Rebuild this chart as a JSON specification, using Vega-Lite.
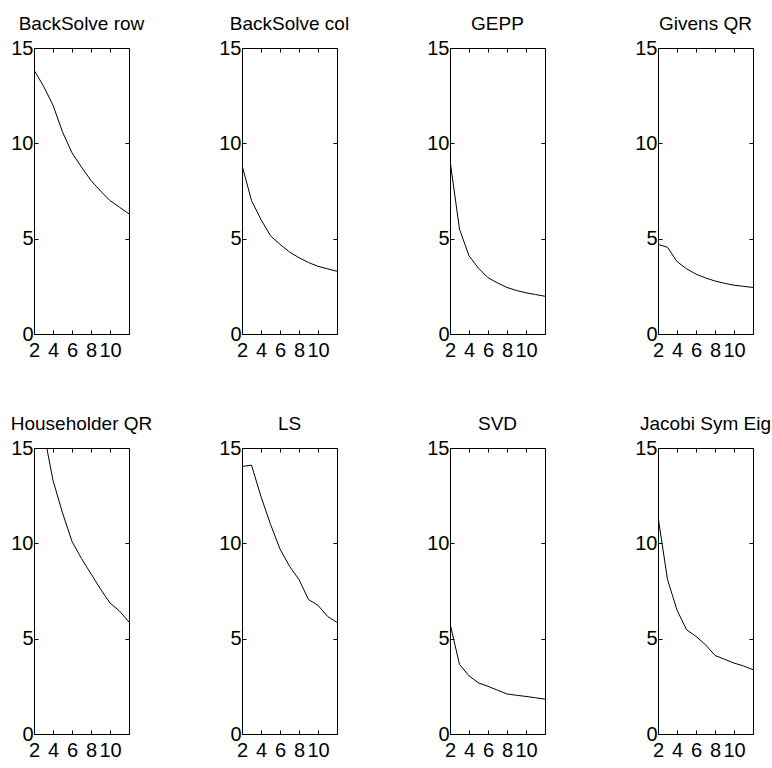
{
  "$schema": "https://vega.github.io/schema/vega-lite/v6.json",
  "background": "white",
  "padding": {"left": 10, "top": 14, "right": 2, "bottom": 5},
  "data": {"values": [
    {"method": "BackSolve row", "n": 2, "value": 13.85},
    {"method": "BackSolve row", "n": 3, "value": 13.0},
    {"method": "BackSolve row", "n": 4, "value": 12.0},
    {"method": "BackSolve row", "n": 5, "value": 10.6},
    {"method": "BackSolve row", "n": 6, "value": 9.5},
    {"method": "BackSolve row", "n": 7, "value": 8.75},
    {"method": "BackSolve row", "n": 8, "value": 8.05},
    {"method": "BackSolve row", "n": 9, "value": 7.5},
    {"method": "BackSolve row", "n": 10, "value": 7.0},
    {"method": "BackSolve row", "n": 11, "value": 6.65},
    {"method": "BackSolve row", "n": 12, "value": 6.3},
    {"method": "BackSolve col", "n": 2, "value": 8.85},
    {"method": "BackSolve col", "n": 3, "value": 7.0},
    {"method": "BackSolve col", "n": 4, "value": 6.0},
    {"method": "BackSolve col", "n": 5, "value": 5.15},
    {"method": "BackSolve col", "n": 6, "value": 4.7},
    {"method": "BackSolve col", "n": 7, "value": 4.3},
    {"method": "BackSolve col", "n": 8, "value": 4.0},
    {"method": "BackSolve col", "n": 9, "value": 3.75},
    {"method": "BackSolve col", "n": 10, "value": 3.55},
    {"method": "BackSolve col", "n": 11, "value": 3.42},
    {"method": "BackSolve col", "n": 12, "value": 3.29},
    {"method": "GEPP", "n": 2, "value": 9.1},
    {"method": "GEPP", "n": 3, "value": 5.5},
    {"method": "GEPP", "n": 4, "value": 4.1},
    {"method": "GEPP", "n": 5, "value": 3.45},
    {"method": "GEPP", "n": 6, "value": 2.95},
    {"method": "GEPP", "n": 7, "value": 2.68},
    {"method": "GEPP", "n": 8, "value": 2.44},
    {"method": "GEPP", "n": 9, "value": 2.28},
    {"method": "GEPP", "n": 10, "value": 2.16},
    {"method": "GEPP", "n": 11, "value": 2.07},
    {"method": "GEPP", "n": 12, "value": 1.98},
    {"method": "Givens QR", "n": 2, "value": 4.7},
    {"method": "Givens QR", "n": 3, "value": 4.55},
    {"method": "Givens QR", "n": 4, "value": 3.8},
    {"method": "Givens QR", "n": 5, "value": 3.42},
    {"method": "Givens QR", "n": 6, "value": 3.14},
    {"method": "Givens QR", "n": 7, "value": 2.94},
    {"method": "Givens QR", "n": 8, "value": 2.78},
    {"method": "Givens QR", "n": 9, "value": 2.66},
    {"method": "Givens QR", "n": 10, "value": 2.56},
    {"method": "Givens QR", "n": 11, "value": 2.5},
    {"method": "Givens QR", "n": 12, "value": 2.44},
    {"method": "Householder QR", "n": 2, "value": 19.5},
    {"method": "Householder QR", "n": 3, "value": 15.9},
    {"method": "Householder QR", "n": 4, "value": 13.3},
    {"method": "Householder QR", "n": 5, "value": 11.6},
    {"method": "Householder QR", "n": 6, "value": 10.1},
    {"method": "Householder QR", "n": 7, "value": 9.2},
    {"method": "Householder QR", "n": 8, "value": 8.4},
    {"method": "Householder QR", "n": 9, "value": 7.6},
    {"method": "Householder QR", "n": 10, "value": 6.87},
    {"method": "Householder QR", "n": 11, "value": 6.45},
    {"method": "Householder QR", "n": 12, "value": 5.87},
    {"method": "LS", "n": 2, "value": 14.03},
    {"method": "LS", "n": 3, "value": 14.1},
    {"method": "LS", "n": 4, "value": 12.45},
    {"method": "LS", "n": 5, "value": 11.0},
    {"method": "LS", "n": 6, "value": 9.7},
    {"method": "LS", "n": 7, "value": 8.8},
    {"method": "LS", "n": 8, "value": 8.1},
    {"method": "LS", "n": 9, "value": 7.05},
    {"method": "LS", "n": 10, "value": 6.75},
    {"method": "LS", "n": 11, "value": 6.17},
    {"method": "LS", "n": 12, "value": 5.85},
    {"method": "SVD", "n": 2, "value": 5.8},
    {"method": "SVD", "n": 3, "value": 3.65},
    {"method": "SVD", "n": 4, "value": 3.05},
    {"method": "SVD", "n": 5, "value": 2.68},
    {"method": "SVD", "n": 6, "value": 2.5},
    {"method": "SVD", "n": 7, "value": 2.3},
    {"method": "SVD", "n": 8, "value": 2.1},
    {"method": "SVD", "n": 9, "value": 2.03},
    {"method": "SVD", "n": 10, "value": 1.97},
    {"method": "SVD", "n": 11, "value": 1.9},
    {"method": "SVD", "n": 12, "value": 1.83},
    {"method": "Jacobi Sym Eig", "n": 2, "value": 11.4},
    {"method": "Jacobi Sym Eig", "n": 3, "value": 8.1},
    {"method": "Jacobi Sym Eig", "n": 4, "value": 6.5},
    {"method": "Jacobi Sym Eig", "n": 5, "value": 5.47},
    {"method": "Jacobi Sym Eig", "n": 6, "value": 5.12},
    {"method": "Jacobi Sym Eig", "n": 7, "value": 4.68},
    {"method": "Jacobi Sym Eig", "n": 8, "value": 4.12},
    {"method": "Jacobi Sym Eig", "n": 9, "value": 3.92},
    {"method": "Jacobi Sym Eig", "n": 10, "value": 3.72},
    {"method": "Jacobi Sym Eig", "n": 11, "value": 3.57},
    {"method": "Jacobi Sym Eig", "n": 12, "value": 3.37}
  ]},
  "columns": 4,
  "spacing": {"column": 113, "row": 114},
  "bounds": "flush",
  "concat": [
    {"title": "BackSolve row", "transform": [{"filter": "datum.method === 'BackSolve row'"}], "width": 95, "height": 286,
     "layer": [
      {"mark": {"type": "line", "color": "black", "strokeWidth": 1, "clip": true},
       "encoding": {
        "x": {"field": "n", "type": "quantitative", "scale": {"domain": [2, 12], "nice": false, "zero": false}, "axis": {"orient": "bottom", "values": [2, 4, 6, 8, 10]}},
        "y": {"field": "value", "type": "quantitative", "scale": {"domain": [0, 15], "nice": false}, "axis": {"orient": "left", "values": [0, 5, 10, 15]}}}},
      {"mark": {"type": "line", "strokeOpacity": 0, "clip": true},
       "encoding": {
        "x": {"field": "n", "type": "quantitative", "axis": {"orient": "top", "values": [2, 4, 6, 8, 10], "labels": false}},
        "y": {"field": "value", "type": "quantitative", "axis": {"orient": "right", "values": [0, 5, 10, 15], "labels": false}}}}
     ],
     "resolve": {"axis": {"x": "independent", "y": "independent"}}},
    {"title": "BackSolve col", "transform": [{"filter": "datum.method === 'BackSolve col'"}], "width": 95, "height": 286,
     "layer": [
      {"mark": {"type": "line", "color": "black", "strokeWidth": 1, "clip": true},
       "encoding": {
        "x": {"field": "n", "type": "quantitative", "scale": {"domain": [2, 12], "nice": false, "zero": false}, "axis": {"orient": "bottom", "values": [2, 4, 6, 8, 10]}},
        "y": {"field": "value", "type": "quantitative", "scale": {"domain": [0, 15], "nice": false}, "axis": {"orient": "left", "values": [0, 5, 10, 15]}}}},
      {"mark": {"type": "line", "strokeOpacity": 0, "clip": true},
       "encoding": {
        "x": {"field": "n", "type": "quantitative", "axis": {"orient": "top", "values": [2, 4, 6, 8, 10], "labels": false}},
        "y": {"field": "value", "type": "quantitative", "axis": {"orient": "right", "values": [0, 5, 10, 15], "labels": false}}}}
     ],
     "resolve": {"axis": {"x": "independent", "y": "independent"}}},
    {"title": "GEPP", "transform": [{"filter": "datum.method === 'GEPP'"}], "width": 95, "height": 286,
     "layer": [
      {"mark": {"type": "line", "color": "black", "strokeWidth": 1, "clip": true},
       "encoding": {
        "x": {"field": "n", "type": "quantitative", "scale": {"domain": [2, 12], "nice": false, "zero": false}, "axis": {"orient": "bottom", "values": [2, 4, 6, 8, 10]}},
        "y": {"field": "value", "type": "quantitative", "scale": {"domain": [0, 15], "nice": false}, "axis": {"orient": "left", "values": [0, 5, 10, 15]}}}},
      {"mark": {"type": "line", "strokeOpacity": 0, "clip": true},
       "encoding": {
        "x": {"field": "n", "type": "quantitative", "axis": {"orient": "top", "values": [2, 4, 6, 8, 10], "labels": false}},
        "y": {"field": "value", "type": "quantitative", "axis": {"orient": "right", "values": [0, 5, 10, 15], "labels": false}}}}
     ],
     "resolve": {"axis": {"x": "independent", "y": "independent"}}},
    {"title": "Givens QR", "transform": [{"filter": "datum.method === 'Givens QR'"}], "width": 95, "height": 286,
     "layer": [
      {"mark": {"type": "line", "color": "black", "strokeWidth": 1, "clip": true},
       "encoding": {
        "x": {"field": "n", "type": "quantitative", "scale": {"domain": [2, 12], "nice": false, "zero": false}, "axis": {"orient": "bottom", "values": [2, 4, 6, 8, 10]}},
        "y": {"field": "value", "type": "quantitative", "scale": {"domain": [0, 15], "nice": false}, "axis": {"orient": "left", "values": [0, 5, 10, 15]}}}},
      {"mark": {"type": "line", "strokeOpacity": 0, "clip": true},
       "encoding": {
        "x": {"field": "n", "type": "quantitative", "axis": {"orient": "top", "values": [2, 4, 6, 8, 10], "labels": false}},
        "y": {"field": "value", "type": "quantitative", "axis": {"orient": "right", "values": [0, 5, 10, 15], "labels": false}}}}
     ],
     "resolve": {"axis": {"x": "independent", "y": "independent"}}},
    {"title": "Householder QR", "transform": [{"filter": "datum.method === 'Householder QR'"}], "width": 95, "height": 286,
     "layer": [
      {"mark": {"type": "line", "color": "black", "strokeWidth": 1, "clip": true},
       "encoding": {
        "x": {"field": "n", "type": "quantitative", "scale": {"domain": [2, 12], "nice": false, "zero": false}, "axis": {"orient": "bottom", "values": [2, 4, 6, 8, 10]}},
        "y": {"field": "value", "type": "quantitative", "scale": {"domain": [0, 15], "nice": false}, "axis": {"orient": "left", "values": [0, 5, 10, 15]}}}},
      {"mark": {"type": "line", "strokeOpacity": 0, "clip": true},
       "encoding": {
        "x": {"field": "n", "type": "quantitative", "axis": {"orient": "top", "values": [2, 4, 6, 8, 10], "labels": false}},
        "y": {"field": "value", "type": "quantitative", "axis": {"orient": "right", "values": [0, 5, 10, 15], "labels": false}}}}
     ],
     "resolve": {"axis": {"x": "independent", "y": "independent"}}},
    {"title": "LS", "transform": [{"filter": "datum.method === 'LS'"}], "width": 95, "height": 286,
     "layer": [
      {"mark": {"type": "line", "color": "black", "strokeWidth": 1, "clip": true},
       "encoding": {
        "x": {"field": "n", "type": "quantitative", "scale": {"domain": [2, 12], "nice": false, "zero": false}, "axis": {"orient": "bottom", "values": [2, 4, 6, 8, 10]}},
        "y": {"field": "value", "type": "quantitative", "scale": {"domain": [0, 15], "nice": false}, "axis": {"orient": "left", "values": [0, 5, 10, 15]}}}},
      {"mark": {"type": "line", "strokeOpacity": 0, "clip": true},
       "encoding": {
        "x": {"field": "n", "type": "quantitative", "axis": {"orient": "top", "values": [2, 4, 6, 8, 10], "labels": false}},
        "y": {"field": "value", "type": "quantitative", "axis": {"orient": "right", "values": [0, 5, 10, 15], "labels": false}}}}
     ],
     "resolve": {"axis": {"x": "independent", "y": "independent"}}},
    {"title": "SVD", "transform": [{"filter": "datum.method === 'SVD'"}], "width": 95, "height": 286,
     "layer": [
      {"mark": {"type": "line", "color": "black", "strokeWidth": 1, "clip": true},
       "encoding": {
        "x": {"field": "n", "type": "quantitative", "scale": {"domain": [2, 12], "nice": false, "zero": false}, "axis": {"orient": "bottom", "values": [2, 4, 6, 8, 10]}},
        "y": {"field": "value", "type": "quantitative", "scale": {"domain": [0, 15], "nice": false}, "axis": {"orient": "left", "values": [0, 5, 10, 15]}}}},
      {"mark": {"type": "line", "strokeOpacity": 0, "clip": true},
       "encoding": {
        "x": {"field": "n", "type": "quantitative", "axis": {"orient": "top", "values": [2, 4, 6, 8, 10], "labels": false}},
        "y": {"field": "value", "type": "quantitative", "axis": {"orient": "right", "values": [0, 5, 10, 15], "labels": false}}}}
     ],
     "resolve": {"axis": {"x": "independent", "y": "independent"}}},
    {"title": "Jacobi Sym Eig", "transform": [{"filter": "datum.method === 'Jacobi Sym Eig'"}], "width": 95, "height": 286,
     "layer": [
      {"mark": {"type": "line", "color": "black", "strokeWidth": 1, "clip": true},
       "encoding": {
        "x": {"field": "n", "type": "quantitative", "scale": {"domain": [2, 12], "nice": false, "zero": false}, "axis": {"orient": "bottom", "values": [2, 4, 6, 8, 10]}},
        "y": {"field": "value", "type": "quantitative", "scale": {"domain": [0, 15], "nice": false}, "axis": {"orient": "left", "values": [0, 5, 10, 15]}}}},
      {"mark": {"type": "line", "strokeOpacity": 0, "clip": true},
       "encoding": {
        "x": {"field": "n", "type": "quantitative", "axis": {"orient": "top", "values": [2, 4, 6, 8, 10], "labels": false}},
        "y": {"field": "value", "type": "quantitative", "axis": {"orient": "right", "values": [0, 5, 10, 15], "labels": false}}}}
     ],
     "resolve": {"axis": {"x": "independent", "y": "independent"}}}
  ],
  "config": {
    "font": "Liberation Sans",
    "view": {"stroke": "black", "strokeWidth": 1},
    "title": {
      "font": "Liberation Sans",
      "fontSize": 19,
      "fontWeight": "normal",
      "color": "black",
      "anchor": "middle",
      "frame": "group",
      "baseline": "alphabetic",
      "offset": 4
    },
    "axis": {
      "grid": false,
      "domain": false,
      "title": null,
      "ticks": true,
      "tickColor": "black",
      "tickSize": -4,
      "tickWidth": 1,
      "labelColor": "black",
      "labelFont": "Liberation Sans",
      "labelFontSize": 20,
      "labelOverlap": false,
      "labelFlush": false,
      "labelBound": false
    },
    "axisX": {"labelPadding": 10.5},
    "axisY": {"labelPadding": 5}
  }
}
